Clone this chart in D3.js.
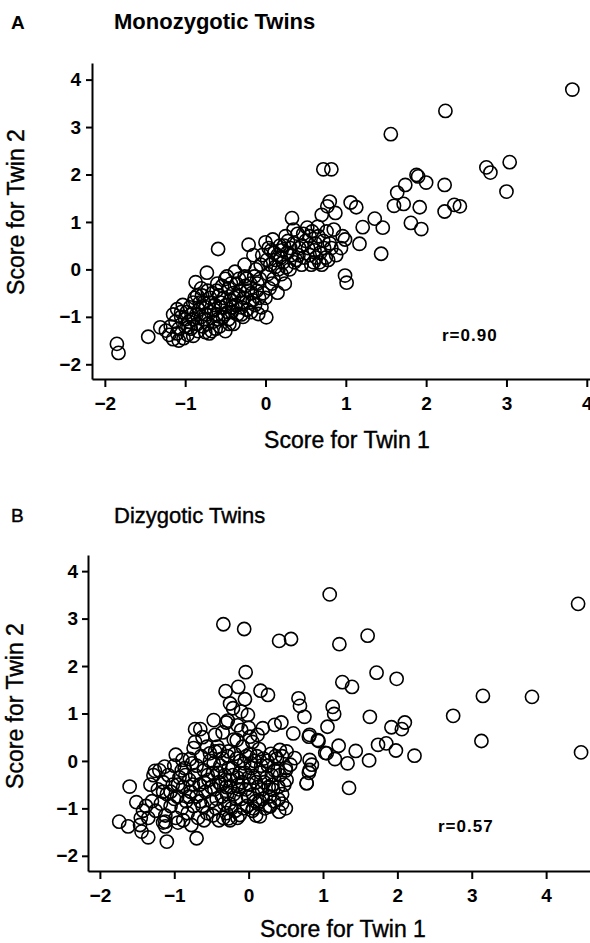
<!DOCTYPE html>
<html><head><meta charset="utf-8">
<script src="https://cdn.jsdelivr.net/npm/d3@7"></script>
<style>body{margin:0;background:#fff} svg{display:block}</style>
</head><body>
<svg id="c" width="590" height="943"></svg>
<script>
// ---------- data ----------
const tickValues = [-2, -1, 0, 1, 2, 3, 4];
const tickLabels = ["−2", "−1", "0", "1", "2", "3", "4"];
const panelLetters = ["A", "B"];
const panelTitles = ["Monozygotic Twins", "Dizygotic Twins"];
const correlations = ["r=0.90", "r=0.57"];
const xTitle = "Score for Twin 1";
const yTitle = "Score for Twin 2";

// [score twin 1, score twin 2]
const mzScores = [
  [3.82,3.79],[2.24,3.34],[1.56,2.85],[0.72,2.11],[0.82,2.11],[2.75,2.15],[2.80,2.04],[3.04,2.26],[3.00,1.64],
  [1.88,1.99],[1.90,1.96],[2.00,1.83],[2.23,1.78],[1.74,1.78],[1.64,1.62],[1.60,1.34],[1.72,1.38],[2.23,1.22],
  [2.35,1.36],[2.42,1.33],[1.92,1.31],[1.81,0.98],[1.94,0.85],[1.36,1.07],[1.46,0.88],[1.44,0.33],[1.06,1.41],
  [1.13,1.31],[1.21,0.89],[1.17,0.54],[0.99,-0.13],[1.01,-0.28],
  [-1.85,-1.57],[-1.83,-1.76],[-1.46,-1.42],[-1.31,-1.22],[-1.24,-1.29],[-1.20,-1.38],[-1.15,-1.47],[-1.08,-1.50],
  [-1.02,-1.45],[-0.97,-1.38],[-1.10,-0.84],[-1.05,-1.00],[-1.12,-1.10],[-1.00,-1.20],[-0.95,-1.10],[-0.92,-0.95],
  [-0.90,-0.70],[-0.87,-0.27],[-0.85,-0.55],[-0.83,-0.85],[-0.80,-1.00],[-0.78,-1.20],[-0.75,-1.32],[-0.72,-0.45],
  [-0.73,-0.07],[-0.70,-0.70],[-0.68,-0.90],[-0.65,-1.10],[-0.62,-1.25],[-0.60,-0.30],[-0.59,0.43],[-0.58,-0.55],
  [-0.55,-0.80],[-0.53,-1.00],[-0.50,-1.30],[-0.48,-0.15],[-0.46,-0.40],[-0.44,-0.65],[-0.42,-0.90],[-0.40,-1.15],
  [-0.38,-0.05],[-0.36,-0.30],[-0.34,-0.55],[-0.30,-0.80],[-0.28,-1.00],[-0.26,0.10],[-0.24,-0.20],[-0.22,-0.45],
  [-0.20,-0.70],[-0.18,-0.90],[-0.21,0.52],[-0.15,0.30],[-0.12,0.00],[-0.10,-0.30],[-0.09,-0.94],[-0.08,-0.60],
  [-0.05,-0.80],[0.00,0.57],[0.01,-1.01],[0.02,0.20],[0.03,-0.10],[0.05,-0.40],[0.07,0.40],[0.09,0.63],[0.10,-0.20],
  [0.12,0.05],[0.15,-0.49],[0.15,0.30],[0.18,0.50],[0.20,-0.10],[0.22,0.15],[0.25,0.70],[0.27,0.35],[0.30,0.00],
  [0.33,1.08],[0.35,0.84],[0.35,0.55],[0.38,0.20],[0.40,0.75],[0.42,0.45],[0.45,0.10],[0.50,0.60],[0.52,0.88],
  [0.55,0.30],[0.58,0.80],[0.60,0.15],[0.62,0.55],[0.65,0.90],[0.68,0.35],[0.70,0.10],[0.70,1.15],[0.72,0.60],
  [0.75,0.25],[0.77,1.33],[0.80,1.43],[0.82,0.45],[0.85,0.84],[0.87,1.19],[0.88,0.30],[0.94,0.45],[0.96,0.70],
  [0.99,0.63],
  [-1.15,-0.95],[-1.08,-1.25],[-1.03,-0.75],[-0.98,-0.90],[-0.93,-1.25],[-0.90,-1.40],[-0.88,-0.60],[-0.85,-1.15],
  [-0.80,-0.40],[-0.77,-0.70],[-0.74,-0.95],[-0.70,-1.35],[-0.66,-0.50],[-0.63,-0.75],[-0.60,-0.95],[-0.57,-1.20],
  [-0.52,-0.60],[-0.50,-0.20],[-0.47,-0.90],[-0.45,-1.15],[-0.40,-0.50],[-0.37,-0.75],[-0.33,-0.20],[-0.30,-0.95],
  [-0.27,-0.60],[-0.25,-0.35],[-0.17,-0.50],[-0.14,-0.15],[-0.13,-0.75],[-0.06,0.10],[-0.03,-0.50],[0.04,0.45],
  [0.08,-0.30],[0.13,0.20],[0.20,0.40],[0.24,-0.30],[0.28,0.60],[0.32,0.30],[0.45,0.50],[0.48,0.25],[0.55,0.70],
  [0.63,0.25],[0.66,0.70],[0.80,0.55],[0.78,0.20],
  [-1.18,-1.20],[-1.10,-1.35],[-1.05,-0.90],[-1.00,-1.05],[-0.96,-1.22],[-0.94,-0.80],[-0.90,-1.05],[-0.86,-0.95],
  [-0.84,-1.30],[-0.82,-0.70],[-0.79,-0.55],[-0.76,-1.05],[-0.74,-0.80],[-0.72,-1.15],[-0.69,-0.60],[-0.67,-1.30],
  [-0.64,-0.85],[-0.61,-0.45],[-0.59,-1.05],[-0.56,-0.70],[-0.54,-0.35],[-0.51,-0.95],[-0.49,-0.75],[-0.46,-1.05],
  [-0.43,-0.30],[-0.41,-0.80],[-0.39,-0.60],[-0.35,-0.95],[-0.32,-0.45],[-0.29,-0.70],[-0.26,-0.15],[-0.23,-0.85],
  [-0.19,-0.30],[-0.16,-0.65],[-0.11,-0.45],[-0.07,-0.20],[-0.04,0.30],[0.00,-0.60],[0.06,0.10],[0.11,0.35],
  [0.16,0.00],[0.19,0.25],[0.23,0.50],[0.26,0.05],[0.31,0.45],[0.36,0.15],[0.41,0.30],[0.47,0.75],[0.53,0.45],
  [0.57,0.10],[0.61,0.40],[0.67,0.15],[0.73,0.45],[0.76,0.80]
];

const dzScores = [
  [1.09,3.51],[4.43,3.31],[1.60,2.64],[1.22,2.46],[1.72,1.86],[1.99,1.73],[1.26,1.66],[1.39,1.56],[3.15,1.37],
  [3.81,1.35],[2.75,0.95],[3.13,0.42],[4.47,0.18],[1.13,1.14],[1.15,0.99],[1.63,0.93],[1.06,0.72],[1.92,0.71],
  [2.10,0.81],[2.06,0.67],[0.82,0.55],[0.94,0.42],[1.74,0.34],[1.85,0.37],[1.98,0.22],[2.23,0.11],[1.21,0.32],
  [1.05,0.16],[1.16,0.04],[1.44,0.21],[1.33,-0.05],[1.62,0.01],[1.35,-0.57],[0.82,0.02],[0.82,-0.19],[0.78,-0.47],
  [-0.34,2.88],[-0.06,2.78],[0.41,2.53],[0.57,2.57],[-0.04,1.87],[-0.31,1.47],[-0.14,1.56],[0.16,1.48],[0.26,1.39],
  [0.67,1.32],[0.69,1.16],[0.75,0.93],[-0.05,1.30],[-0.25,1.21],[-0.21,1.11],[-0.10,1.04],[-0.01,0.97],[-0.47,0.86],
  [-0.30,0.81],[-0.72,0.67],[-0.65,0.67],[0.44,0.81],[0.35,0.76],[0.19,0.69],[0.60,0.58],[0.81,0.51],[0.93,0.44],
  [1.03,0.17],
  [-1.60,-0.54],[-1.51,-0.87],[-1.74,-1.28],[-1.62,-1.38],[-1.46,-1.35],[-1.44,-1.49],[-1.35,-1.61],[-1.10,-1.70],
  [-0.70,-1.63],[-1.12,-1.38],[-1.12,-1.28],[-0.77,-1.35],[-1.26,-0.21],[-1.13,-0.12],[-0.98,0.13],[-0.89,0.02],
  [-0.79,0.04],[-0.56,0.30],[-0.74,0.27],[-0.52,0.16],[-0.45,0.20],[-0.39,0.21],[-0.27,0.20],[-0.16,0.44],[0.02,0.51],
  [0.50,-1.00],[0.41,-1.07],[0.15,-1.17],[0.06,-1.00],[-0.12,-1.14],[-0.27,-1.21],[0.78,-0.47],[0.81,-0.25],[0.85,-0.08],
  [0.62,0.06],[0.51,0.20],[0.42,0.23],[0.56,-0.08],[0.50,-0.15],[0.51,-0.40],[0.33,-0.61],[0.40,-0.81],[0.29,-0.96],
  [-1.30,-0.85],[-1.28,-0.30],[-1.25,-1.05],[-1.22,-0.60],[-1.20,-0.20],[-1.18,-0.90],[-1.15,-0.45],[-1.12,-1.15],
  [-1.10,-0.70],[-1.08,-0.30],[-1.05,-0.95],[-1.02,-0.50],[-1.00,-0.10],[-0.98,-1.20],[-0.96,-0.75],[-0.93,-0.35],
  [-0.90,-1.00],[-0.88,-0.55],[-0.86,-0.15],[-0.84,-0.85],[-0.82,-1.10],[-0.80,-0.40],[-0.78,-0.65],[-0.76,-0.05],
  [-0.74,-0.95],[-0.72,-0.30],[-0.70,-0.75],[-0.68,-1.20],[-0.66,-0.50],[-0.64,0.10],[-0.62,-0.95],[-0.60,-0.20],
  [-0.58,-0.65],[-0.56,-1.10],[-0.54,-0.40],[-0.52,0.00],[-0.50,-0.85],[-0.48,-0.25],[-0.46,-0.60],[-0.44,-1.00],
  [-0.42,0.30],[-0.40,-0.45],[-0.38,-0.10],[-0.36,-0.75],[-0.34,-1.20],[-0.32,-0.30],[-0.30,-0.55],[-0.28,0.10],
  [-0.26,-0.90],[-0.24,-0.40],[-0.22,-0.15],[-0.20,-0.70],[-0.18,-1.05],[-0.16,0.05],[-0.14,-0.50],[-0.12,-0.25],
  [-0.10,-0.80],[-0.08,0.30],[-0.06,-0.05],[-0.04,-0.60],[-0.02,-0.95],[0.00,-0.35],[0.02,0.15],[0.04,-0.15],
  [0.06,-0.70],[0.08,0.00],[0.10,-0.45],[0.12,-0.90],[0.14,0.25],[0.16,-0.25],[0.18,-0.60],[0.20,0.05],[0.22,-1.00],
  [0.24,-0.35],[0.26,-0.10],[0.28,-0.75],[0.30,0.15],[0.32,-0.50],[0.35,-0.20],[0.38,0.05],[0.40,-0.55],[0.42,-0.30],
  [0.45,0.10],[0.48,-0.50],[0.50,-0.20],
  [-1.42,-1.05],[-1.38,-0.95],[-1.35,-1.20],[-1.45,-1.20],[-1.32,-0.50],[-1.15,-1.30],[-0.95,-1.30],[-0.88,-1.25],
  [-0.60,-1.25],[-0.48,-1.15],[-0.30,-1.10],[-0.15,-1.20],[0.05,-1.05],[0.10,-1.15],[-0.40,-1.25],[-0.25,-1.25],
  [0.15,-0.85],[0.28,-0.95],[0.45,-0.90],[0.45,-0.70],
  [-0.72,0.40],[-0.62,0.50],[-0.45,0.55],[-0.35,0.60],[-0.20,0.45],[-0.10,0.65],[0.05,0.40],[0.12,0.55],
  [-0.28,0.85],[-0.15,0.75],[0.00,0.70],
  [-0.55,-0.30],[-0.50,-0.55],[-0.47,-0.05],[-0.43,-0.80],[-0.41,-0.25],[-0.37,-0.50],[-0.35,0.05],[-0.33,-0.90],
  [-0.31,-0.40],[-0.29,-0.70],[-0.27,-0.15],[-0.25,-0.55],[-0.23,-1.00],[-0.21,-0.30],[-0.19,0.15],[-0.17,-0.80],
  [-0.15,-0.35],[-0.13,-0.60],[-0.11,0.00],[-0.09,-0.45],[-0.07,-1.00],[-0.05,-0.25],[-0.03,0.10],[-0.01,-0.75],
  [0.01,-0.50],[0.03,-0.05],[0.07,-0.35],[0.09,-0.85],[0.11,0.10],[0.13,-0.55],[0.17,-0.10],[0.19,-0.80],
  [0.21,-0.45],[0.25,0.00],[0.27,-0.55],[0.31,-0.30],[0.34,-0.85],[0.36,0.10],[0.39,-0.20],[-0.85,-0.30],
  [-0.80,-0.75],[-0.75,-0.50],[-0.70,-0.10],[-0.65,-0.85],[-0.60,-0.45],[-1.00,-0.80],[-1.05,-0.65],[-0.95,-0.50],
  [-1.15,-0.65],[-0.90,-0.20]
];

// ---------- layout ----------
const panels = [
  { data: mzScores, xDom: [-2.16, 4.04], xRange: [92, 590], yDom: [-2.31, 4.35], yRange: [379, 63],
    letterPos: [11, 29], titlePos: [114, 29], titleWeight: "bold",
    rPos: [442, 341], xTitlePos: [347, 448], yTitlePos: [24, 212], yPad: 5 },
  { data: dzScores, xDom: [-2.16, 4.59], xRange: [88, 590], yDom: [-2.32, 4.34], yRange: [871, 555],
    letterPos: [11, 522], titlePos: [114, 523], titleWeight: "normal",
    rPos: [438, 832], xTitlePos: [343, 937], yTitlePos: [23, 706], yPad: 4 }
];

const svg = d3.select("#c");
const FONT = "'Liberation Sans', Arial, Helvetica, sans-serif";

panels.forEach((p, i) => {
  const g = svg.append("g");
  const x = d3.scaleLinear().domain(p.xDom).range(p.xRange);
  const y = d3.scaleLinear().domain(p.yDom).range(p.yRange);

  g.append("g").selectAll("circle").data(p.data).join("circle")
    .attr("cx", d => x(d[0])).attr("cy", d => y(d[1])).attr("r", 6.6)
    .attr("fill", "none").attr("stroke", "#000").attr("stroke-width", 1.6);

  const xa = g.append("g").attr("transform", `translate(0,${p.yRange[0]})`)
    .call(d3.axisBottom(x).tickValues(tickValues).tickFormat((d, k) => tickLabels[k])
      .tickSizeOuter(0).tickSizeInner(8).tickPadding(10));
  const ya = g.append("g").attr("transform", `translate(${p.xRange[0]},0)`)
    .call(d3.axisLeft(y).tickValues(tickValues).tickFormat((d, k) => tickLabels[k])
      .tickSizeOuter(0).tickSizeInner(6).tickPadding(p.yPad));
  [xa, ya].forEach(a => {
    a.select(".domain").attr("stroke", "#000").attr("stroke-width", 2);
    a.selectAll(".tick line").attr("stroke", "#000").attr("stroke-width", 2);
    a.selectAll(".tick text").attr("fill", "#000")
      .style("font-family", FONT).style("font-size", "19px").style("font-weight", "bold");
  });

  const txt = (t, xx, yy, size, weight) => g.append("text").text(t)
    .attr("x", xx).attr("y", yy).attr("fill", "#000")
    .style("font-family", FONT).style("font-size", size + "px").style("font-weight", weight);

  txt(panelLetters[i], p.letterPos[0], p.letterPos[1], 19, i === 0 ? "bold" : "normal")
    .attr("stroke", "#000").attr("stroke-width", i === 0 ? 0 : 0.4);
  txt(panelTitles[i], p.titlePos[0], p.titlePos[1], 22, p.titleWeight)
    .attr("stroke", "#000").attr("stroke-width", i === 0 ? 0 : 0.4);
  txt(correlations[i], p.rPos[0], p.rPos[1], 17, "bold").style("letter-spacing", "1px");
  txt(xTitle, p.xTitlePos[0], p.xTitlePos[1], 23, "normal").attr("text-anchor", "middle")
    .attr("stroke", "#000").attr("stroke-width", 0.4);
  txt(yTitle, 0, 0, 23, "normal").attr("text-anchor", "middle")
    .attr("stroke", "#000").attr("stroke-width", 0.4)
    .attr("transform", `translate(${p.yTitlePos[0]},${p.yTitlePos[1]}) rotate(-90)`);
});
</script>
</body></html>
